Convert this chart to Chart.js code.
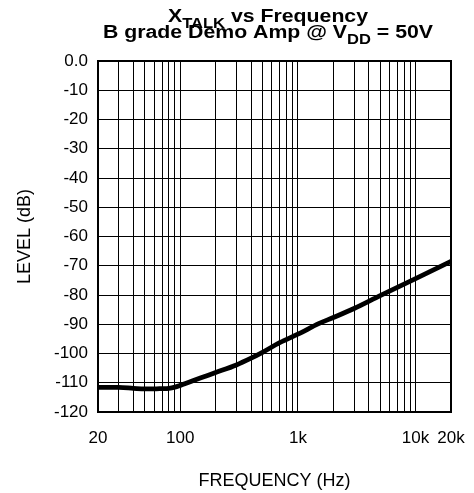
<!DOCTYPE html>
<html>
<head>
<meta charset="utf-8">
<script src="https://cdn.jsdelivr.net/npm/chart.js@4.4.1/dist/chart.umd.min.js"></script>
<style>
  html, body { margin: 0; padding: 0; background: #fff; }
  #wrap { width: 474px; height: 493px; }
</style>
</head>
<body>
<div id="wrap"><canvas id="xtalk"></canvas></div>
<script>
// Data
const freqHz = [20, 30, 40, 50, 60, 70, 80, 90, 100, 150, 200, 300, 400, 500, 700, 1000, 1500, 2000, 3000, 5000, 10000, 20000];
const levelDb = [-111.6, -111.6, -111.9, -112.1, -112.1, -112.0, -111.9, -111.5, -110.9, -108.3, -106.5, -103.9, -101.6, -99.6, -96.3, -93.4, -89.8, -87.7, -84.6, -80.2, -74.4, -68.5];

// Log grid lines and the few labelled ones
const xGridValues = [20, 30, 40, 50, 60, 70, 80, 90, 100, 200, 300, 400, 500, 600, 700, 800, 900,
  1000, 2000, 3000, 4000, 5000, 6000, 7000, 8000, 9000, 10000, 20000];
const xTickLabels = { 20: '20', 100: '100', 1000: '1k', 10000: '10k', 20000: '20k' };
const yMin = -120;
const yMax = 0;
const yStep = 10;

const FONT = '"Liberation Sans", Arial, Helvetica, sans-serif';

// Width of a row of text runs at a given font
const runsWidth = (ctx, runs) => runs.reduce((sum, [text, size]) => {
  ctx.font = `bold ${size}px ${FONT}`;
  return sum + ctx.measureText(text).width;
}, 0);

// Draws text runs side by side, centred on cx (for the subscripted title)
const drawRuns = (ctx, runs, cx, y, sx) => {
  let x = cx / sx - runsWidth(ctx, runs) / 2;
  runs.forEach(([text, size, dy]) => {
    ctx.font = `bold ${size}px ${FONT}`;
    ctx.fillText(text, x, y + dy);
    x += ctx.measureText(text).width;
  });
};

const titleLine1 = [['X', 18, 0], ['TALK', 14, 6], [' vs Frequency', 18, 0]];
const titleLine2 = [['B grade Demo Amp @ V', 18, 0], ['DD', 14, 6], [' = 50V', 18, 0]];

const titlePlugin = {
  id: 'subTitle',
  afterDraw(chart) {
    const ctx = chart.ctx;
    ctx.save();
    ctx.fillStyle = '#000';
    ctx.textAlign = 'left';
    ctx.textBaseline = 'alphabetic';
    // the original title is set rather wide
    const sx = 330 / runsWidth(ctx, titleLine2);
    ctx.scale(sx, 1);
    drawRuns(ctx, titleLine1, 268, 22, sx);
    drawRuns(ctx, titleLine2, 268, 38, sx);
    ctx.restore();
  }
};

// Heavier frame round the plot area
const framePlugin = {
  id: 'frame',
  afterDatasetsDraw(chart) {
    const { ctx, chartArea: a } = chart;
    ctx.save();
    ctx.strokeStyle = '#000';
    ctx.lineWidth = 2;
    ctx.strokeRect(a.left, a.top, a.right - a.left, a.bottom - a.top);
    ctx.restore();
  }
};

new Chart(document.getElementById('xtalk'), {
  type: 'line',
  data: {
    datasets: [{
      data: freqHz.map((f, i) => ({ x: f, y: levelDb[i] })),
      borderColor: '#000',
      borderWidth: 4.8,
      pointRadius: 0,
      cubicInterpolationMode: 'monotone',
      fill: false
    }]
  },
  options: {
    responsive: true,
    maintainAspectRatio: false,
    animation: false,
    layout: { padding: { top: 61, right: 23, left: 0, bottom: 0 } },
    plugins: { legend: { display: false }, tooltip: { enabled: false } },
    scales: {
      x: {
        type: 'logarithmic',
        min: 20,
        max: 20000,
        afterBuildTicks: s => { s.ticks = xGridValues.map(v => ({ value: v })); },
        afterFit: s => { s.height = 81; },
        grid: { color: '#000', lineWidth: 1, drawTicks: true, tickLength: 10, tickColor: 'rgba(0,0,0,0)' },
        border: { display: false },
        ticks: {
          autoSkip: false,
          maxRotation: 0,
          padding: 6,
          color: '#000',
          font: { family: FONT, size: 17 },
          callback: v => xTickLabels[v] || ''
        },
        title: {
          display: true,
          text: 'FREQUENCY (Hz)',
          color: '#000',
          font: { family: FONT, size: 18 },
          padding: { top: 0, bottom: 1 }
        }
      },
      y: {
        min: yMin,
        max: yMax,
        afterFit: s => { s.width = 98; },
        grid: { color: '#000', lineWidth: 1, drawTicks: false },
        border: { display: false },
        ticks: {
          stepSize: yStep,
          padding: 10,
          color: '#000',
          font: { family: FONT, size: 17 },
          callback: v => v === 0 ? '0.0' : String(v)
        },
        title: {
          display: true,
          text: 'LEVEL (dB)',
          color: '#000',
          font: { family: FONT, size: 18 },
          padding: { top: 14, bottom: 0 }
        }
      }
    }
  },
  plugins: [titlePlugin, framePlugin]
});
</script>
</body>
</html>
